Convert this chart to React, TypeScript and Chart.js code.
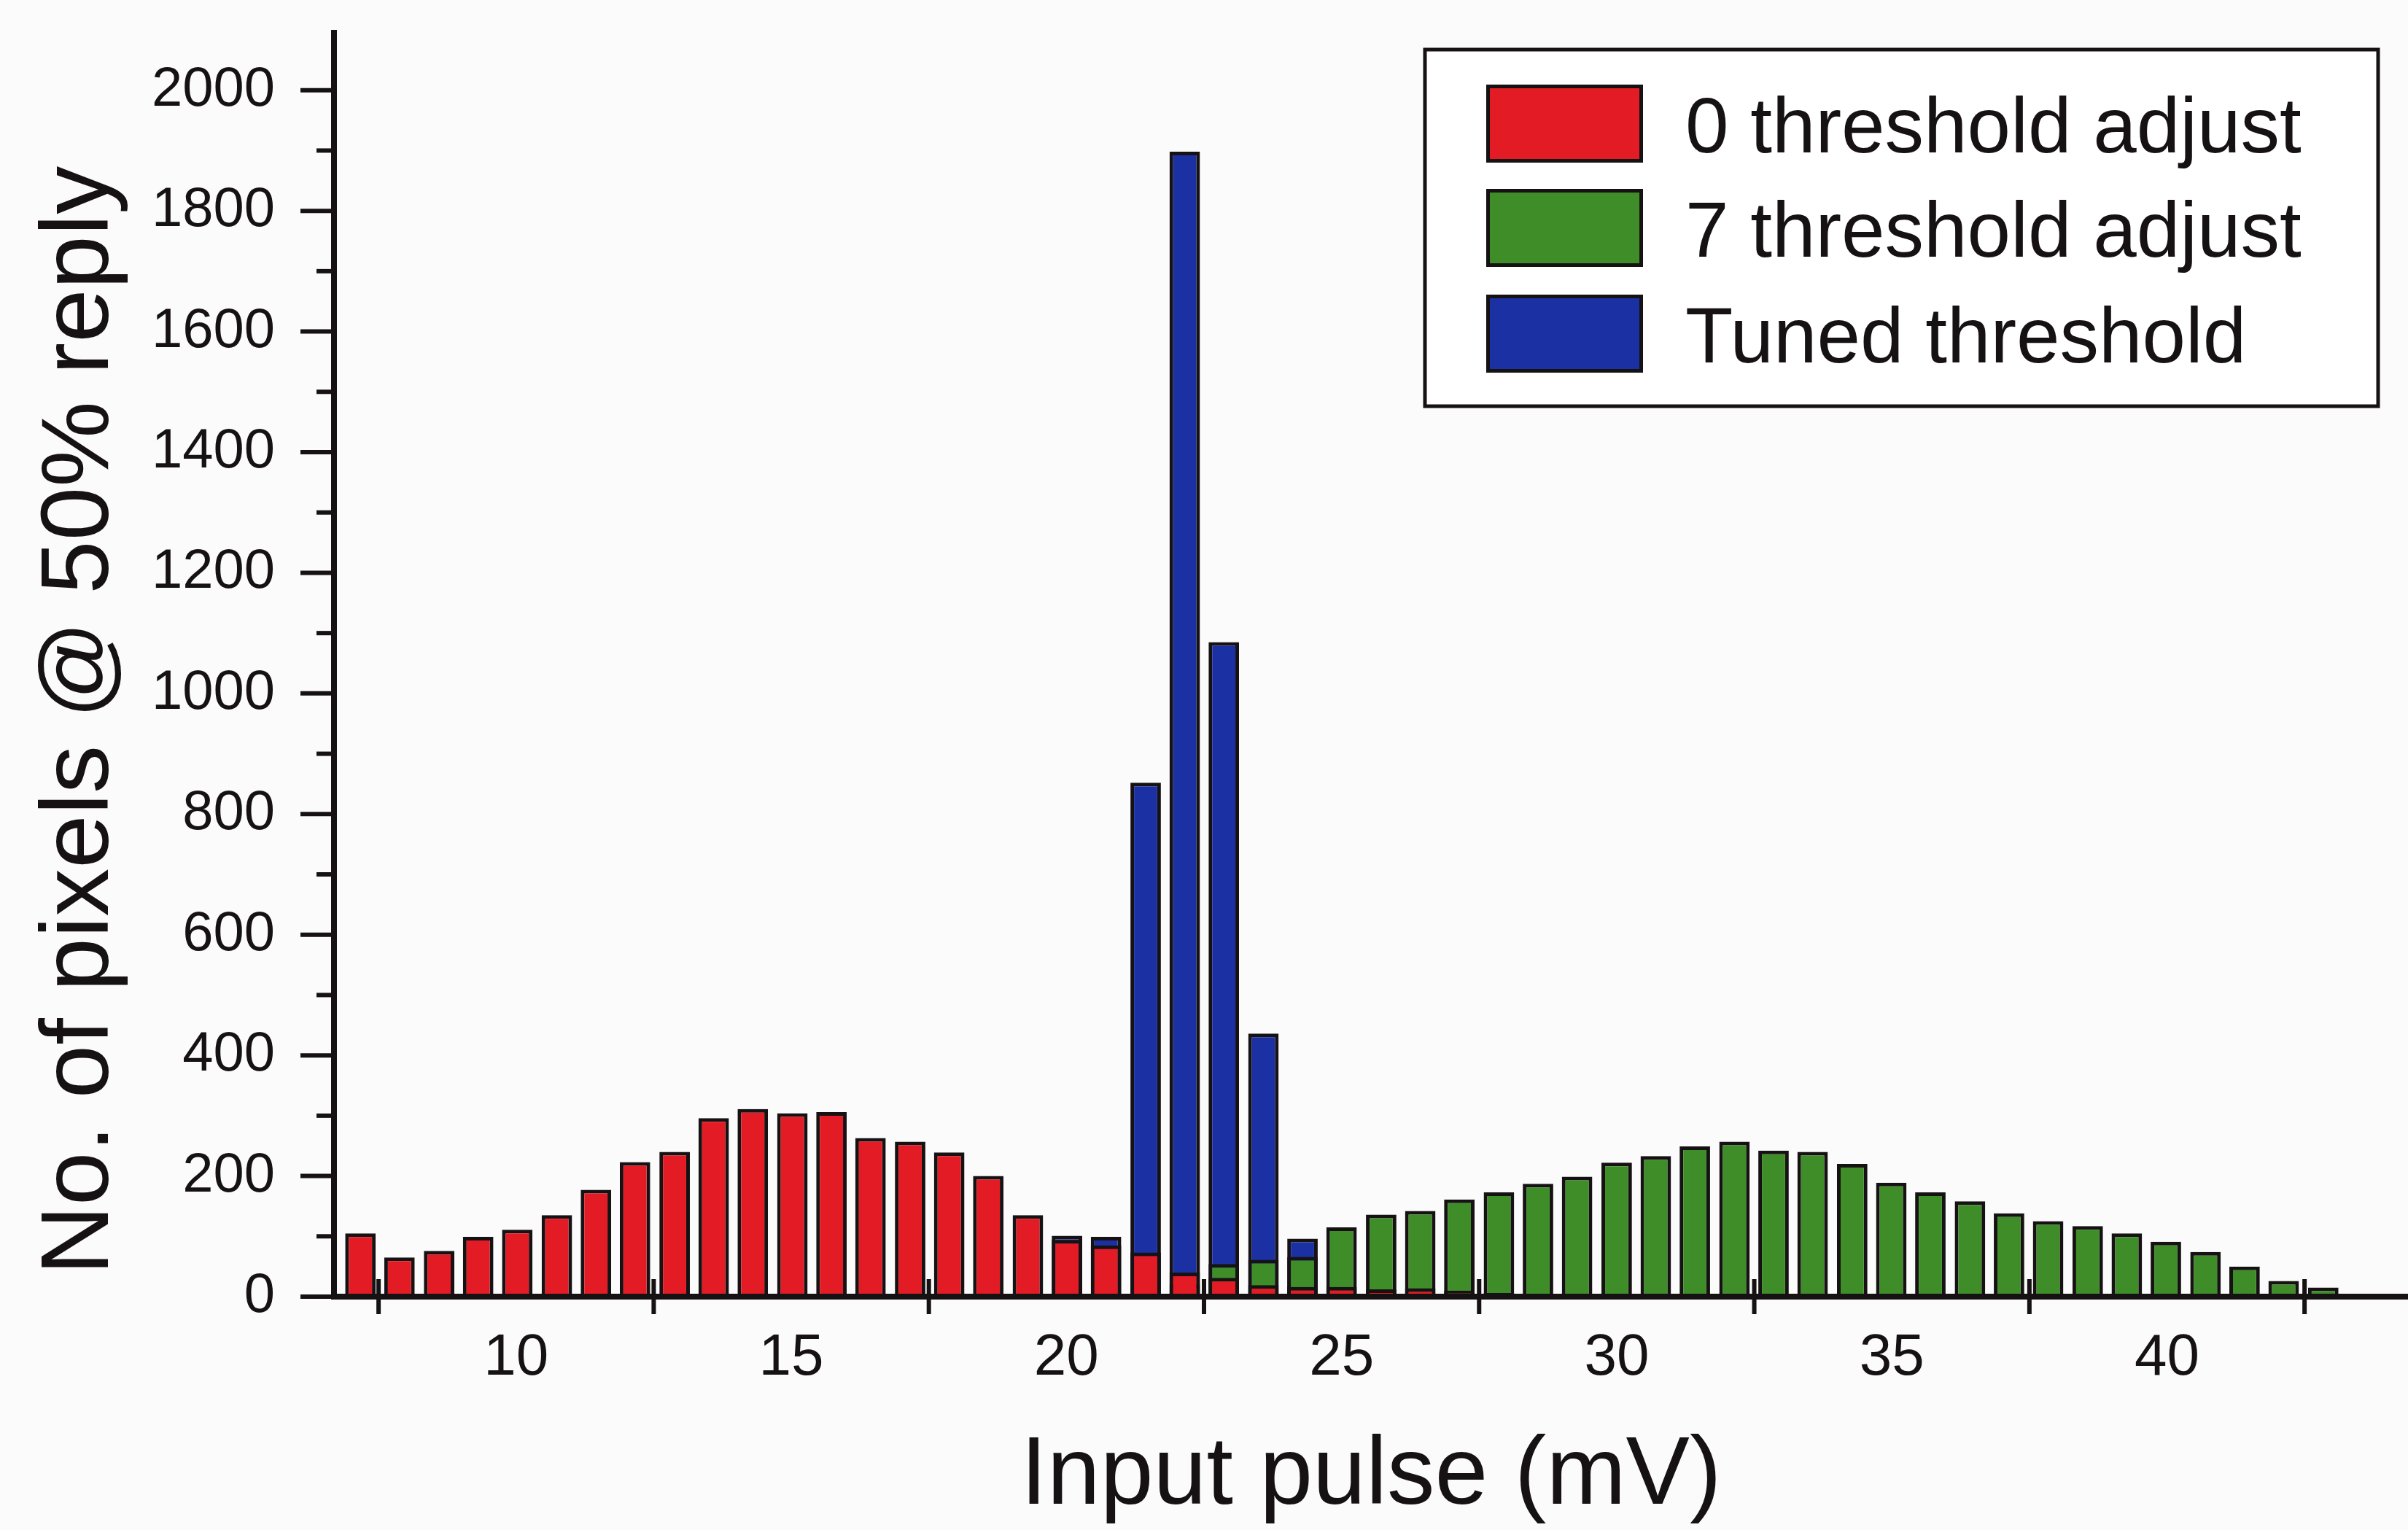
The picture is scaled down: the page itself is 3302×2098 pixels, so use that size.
import React, { useEffect, useRef } from 'react';
import { Chart, registerables } from 'chart.js';

Chart.register(...registerables);

// ---------- data ----------
const X_MV = [
  7.17, 7.88, 8.6, 9.31, 10.02, 10.74, 11.45, 12.16, 12.88, 13.59,
  14.3, 15.02, 15.73, 16.44, 17.16, 17.87, 18.58, 19.3, 20.01, 20.72,
  21.44, 22.15, 22.86, 23.58, 24.29, 25.0, 25.72, 26.43, 27.14, 27.86,
  28.57, 29.28, 30.0, 30.71, 31.42, 32.14, 32.85, 33.56, 34.28, 34.99,
  35.7, 36.42, 37.13, 37.84, 38.56, 39.27, 39.98, 40.7, 41.41, 42.12, 42.84,
];

const RED_0_ADJUST = [
  105, 65, 76, 99, 111, 135, 177, 223, 240, 296,
  311, 304, 306, 263, 257, 239, 200, 135, 94, 85,
  73, 40, 31, 19, 16, 16, 12, 14, 10, 6,
  4, 3, 2, 0, 0, 0, 0, 0, 0, 0,
  0, 0, 0, 0, 0, 0, 0, 0, 0, 0, 0,
];

const GREEN_7_ADJUST = [
  0, 0, 0, 0, 0, 0, 0, 0, 0, 0,
  0, 0, 0, 0, 0, 0, 0, 0, 0, 0,
  0, 20, 54, 61, 66, 115, 136, 142, 161, 173,
  187, 199, 222, 233, 249, 257, 242, 240, 220, 189,
  173, 158, 138, 125, 117, 105, 91, 74, 50, 26, 15,
];

const BLUE_TUNED = [
  0, 0, 0, 0, 0, 0, 0, 0, 0, 0,
  0, 0, 0, 0, 0, 0, 0, 0, 101, 99,
  852, 1898, 1085, 436, 96, 0, 0, 0, 0, 0,
  0, 0, 0, 0, 0, 0, 0, 0, 0, 0,
  0, 0, 0, 0, 0, 0, 0, 0, 0, 0, 0,
];

const SERIES_LABELS = ['0 threshold adjust', '7 threshold adjust', 'Tuned threshold'];
const X_TICK_LABELS = [10, 15, 20, 25, 30, 35, 40];
const X_TICK_MARKS = [7.5, 12.5, 17.5, 22.5, 27.5, 32.5, 37.5, 42.5];
const Y_TICK_LABELS = [0, 200, 400, 600, 800, 1000, 1200, 1400, 1600, 1800, 2000];
const Y_MINOR_TICKS = [100, 300, 500, 700, 900, 1100, 1300, 1500, 1700, 1900];
const X_TITLE = 'Input pulse (mV)';
const Y_TITLE = 'No. of pixels @ 50% reply';

// ---------- styling ----------
const W = 3302;
const H = 2098;
const FONT = "'Liberation Sans', Arial, Helvetica, sans-serif";
const INK = '#161214';
const BG = '#fbfbfb';
const COLORS = ['#e31b24', '#3e8d29', '#1b31a3'];

const decorPlugin = {
  id: 'decor',
  beforeDraw(chart: any) {
    const { ctx } = chart;
    ctx.save();
    ctx.fillStyle = BG;
    ctx.fillRect(0, 0, chart.width, chart.height);
    ctx.restore();
  },
  afterDatasetsDraw(chart: any) {
    const { ctx, chartArea: a } = chart;
    const xs = chart.scales.x;
    const ys = chart.scales.y;
    const line = (x1: number, y1: number, x2: number, y2: number) => {
      ctx.beginPath();
      ctx.moveTo(x1, y1);
      ctx.lineTo(x2, y2);
      ctx.stroke();
    };
    ctx.save();
    ctx.strokeStyle = INK;
    ctx.lineCap = 'butt';

    // axis lines
    ctx.lineWidth = 8;
    line(a.left, a.top, a.left, a.bottom + 4);
    line(a.left - 4, a.bottom, chart.width, a.bottom);

    // y ticks (outward)
    ctx.lineWidth = 6;
    Y_TICK_LABELS.forEach((v) => {
      const py = ys.getPixelForValue(v);
      line(a.left - 46, py, a.left, py);
    });
    Y_MINOR_TICKS.forEach((v) => {
      const py = ys.getPixelForValue(v);
      line(a.left - 24, py, a.left, py);
    });
    // x ticks (crossing the axis)
    X_TICK_MARKS.forEach((v) => {
      const px = xs.getPixelForValue(v);
      line(px, a.bottom - 24, px, a.bottom + 24);
    });

    // y title (rotated)
    ctx.fillStyle = INK;
    ctx.save();
    ctx.translate(148, 988);
    ctx.rotate(-Math.PI / 2);
    ctx.font = `132px ${FONT}`;
    ctx.textAlign = 'center';
    ctx.textBaseline = 'alphabetic';
    ctx.fillText(Y_TITLE, 0, 0);
    ctx.restore();

    // legend box
    const bx = 1954, by = 68, bw = 3261 - 1954, bh = 557 - 68;
    ctx.fillStyle = '#ffffff';
    ctx.fillRect(bx, by, bw, bh);
    ctx.lineWidth = 5;
    ctx.strokeStyle = INK;
    ctx.strokeRect(bx, by, bw, bh);
    const swX = 2038, swW = 215, swH = 107;
    const swY = [116, 259, 404];
    chart.data.datasets.forEach((ds: any, i: number) => {
      ctx.fillStyle = ds.backgroundColor;
      ctx.fillRect(swX, swY[i], swW, swH);
      ctx.lineWidth = 5;
      ctx.strokeStyle = INK;
      ctx.strokeRect(swX + 2.5, swY[i] + 2.5, swW - 5, swH - 5);
      ctx.fillStyle = INK;
      ctx.font = `107px ${FONT}`;
      ctx.textAlign = 'left';
      ctx.textBaseline = 'alphabetic';
      ctx.fillText(ds.label, 2311, swY[i] + swH / 2 + 39);
    });
    ctx.restore();
  },
};

export default function App() {
  const canvasRef = useRef<HTMLCanvasElement | null>(null);

  useEffect(() => {
    const canvas = canvasRef.current;
    if (!canvas) return;
    const series = [RED_0_ADJUST, GREEN_7_ADJUST, BLUE_TUNED];
    const chart = new Chart(canvas, {
      type: 'bar',
      data: {
        datasets: series.map((vals, i) => ({
          label: SERIES_LABELS[i],
          data: X_MV.map((x, j) => ({ x, y: vals[j] })),
          backgroundColor: COLORS[i],
          borderColor: INK,
          borderWidth: 5,
          grouped: false,
          barPercentage: 0.78,
          categoryPercentage: 1,
          order: i,
        })),
      } as any,
      options: {
        animation: false,
        responsive: false,
        devicePixelRatio: 1,
        layout: { padding: { left: 0, right: 0, top: 41, bottom: 0 } },
        plugins: {
          legend: { display: false },
          tooltip: { enabled: false },
        },
        scales: {
          x: {
            type: 'linear',
            offset: false,
            min: 6.69,
            max: 44.38,
            afterBuildTicks: (s: any) => {
              s.ticks = X_TICK_LABELS.map((v) => ({ value: v }));
            },
            afterFit: (s: any) => {
              s.height = 320;
              s.paddingLeft = 0;
              s.paddingRight = 0;
            },
            grid: { display: false, drawTicks: false, offset: false },
            border: { display: false },
            ticks: {
              autoSkip: false,
              maxRotation: 0,
              padding: 37,
              color: INK,
              font: { family: FONT, size: 80 },
              callback: (v: any) => String(v),
            },
            title: {
              display: true,
              text: X_TITLE,
              color: INK,
              padding: 0,
              font: { family: FONT, size: 131, lineHeight: 1.1 },
            },
          },
          y: {
            type: 'linear',
            min: 0,
            max: 2100,
            afterBuildTicks: (s: any) => {
              s.ticks = Y_TICK_LABELS.map((v) => ({ value: v }));
            },
            afterFit: (s: any) => {
              s.width = 458;
              s.paddingTop = 0;
              s.paddingBottom = 0;
            },
            grid: { display: false, drawTicks: false },
            border: { display: false },
            ticks: {
              autoSkip: false,
              padding: 81,
              color: INK,
              font: { family: FONT, size: 76 },
              callback: (v: any) => String(v),
            },
          },
        },
      } as any,
      plugins: [decorPlugin],
    });
    return () => chart.destroy();
  }, []);

  return (
    <div style={{ position: 'fixed', left: 0, top: 0, width: W, height: H, background: BG }}>
      <canvas ref={canvasRef} width={W} height={H} style={{ display: 'block', width: W, height: H }} />
    </div>
  );
}
